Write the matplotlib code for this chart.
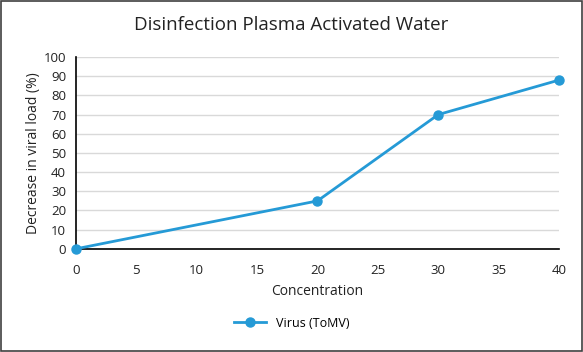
import matplotlib.pyplot as plt
from matplotlib.patches import Rectangle

# data
concentration = [0, 20, 30, 40]
viral_decrease = [0, 25, 70, 88]

LINE_COLOR = "#259ad6"
GRID_COLOR = "#d9d9d9"

plt.rcParams["font.family"] = ["Open Sans", "DejaVu Sans"]

fig = plt.figure(figsize=(5.83, 3.52), dpi=100)
ax = fig.add_axes([0.130, 0.293, 0.829, 0.545])

ax.plot(concentration, viral_decrease, color=LINE_COLOR, linewidth=2,
        marker="o", markersize=6.5, label="Virus (ToMV)", clip_on=False, zorder=3)

ax.set_xlim(0, 40)
ax.set_ylim(0, 100)
ax.set_xticks(range(0, 41, 5))
ax.set_yticks(range(0, 101, 10))
ax.tick_params(length=0, labelsize=9.5, labelcolor="#222222")
ax.tick_params(axis="x", pad=11)
ax.tick_params(axis="y", pad=7)

ax.grid(axis="y", color=GRID_COLOR, linewidth=1)
ax.set_axisbelow(True)
for side in ["top", "right"]:
    ax.spines[side].set_visible(False)
for side in ["left", "bottom"]:
    ax.spines[side].set_color("black")
    ax.spines[side].set_linewidth(1.2)

ax.set_xlabel("Concentration", fontsize=10, color="#222222", labelpad=5)
ax.set_ylabel("Decrease in viral load (%)", fontsize=10, color="#222222", labelpad=2)

fig.suptitle("Disinfection Plasma Activated Water", fontsize=13.5, color="#222222", y=0.955)

fig.legend(loc="center", bbox_to_anchor=(0.5, 0.082), frameon=False, fontsize=9,
           handlelength=2.6, markerscale=1)

# thin frame around the whole chart
fig.patches.append(Rectangle((0.002, 0.003), 0.996, 0.994, transform=fig.transFigure,
                             fill=False, edgecolor="#404040", linewidth=1.2))

fig.savefig("out.png", dpi=100)
